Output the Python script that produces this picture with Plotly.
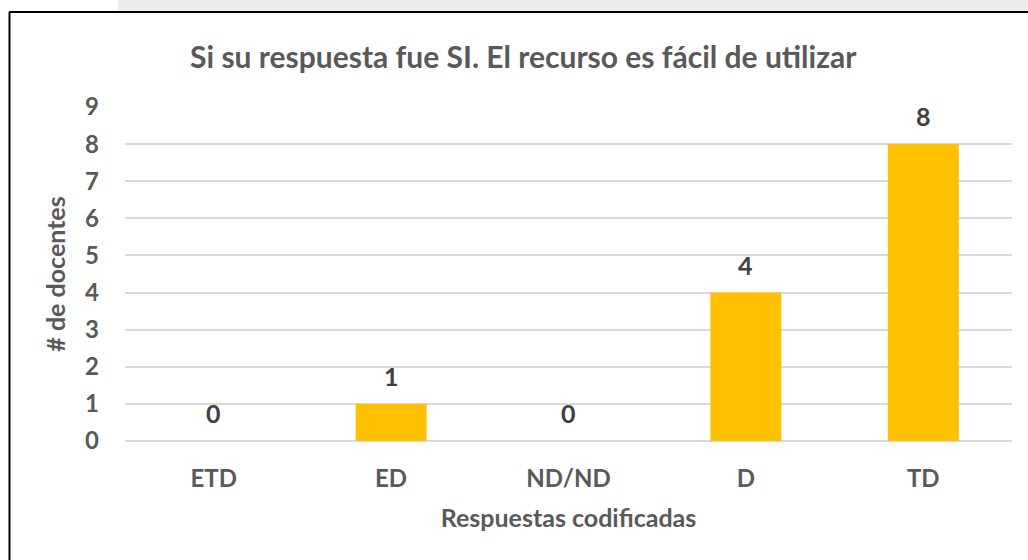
import plotly.graph_objects as go

# Survey answers (coded) and number of teachers per answer
categorias = ["ETD", "ED", "ND/ND", "D", "TD"]
docentes = [0, 1, 0, 4, 8]
ticks_y = [0, 1, 2, 3, 4, 5, 6, 7, 8, 9]

W, H = 1028, 560
ML, MR, MT, MB = 125, 16, 107, 119
PW, PH = W - ML - MR, H - MT - MB


def px_x(p):
    return (p - ML) / PW


def px_y(p):
    return (H - MB - p) / PH


FONT = "Lato"
GRIS = "#595959"

fig = go.Figure(
    go.Bar(
        x=categorias,
        y=docentes,
        marker=dict(color="#ffc000", line=dict(width=0)),
        width=0.4,
        hoverinfo="x+y",
    )
)

# value labels above each bar
for cat, val in zip(categorias, docentes):
    fig.add_annotation(
        x=cat, y=val, text=str(val), showarrow=False,
        yanchor="middle", yshift=28,
        font=dict(family=FONT, size=25, color="#404040", weight="bold"),
    )

fig.update_layout(
    width=W,
    height=H,
    margin=dict(l=ML, r=MR, t=MT, b=MB, pad=0),
    paper_bgcolor="white",
    plot_bgcolor="white",
    showlegend=False,
    title=dict(
        text="Si su respuesta fue SI. El recurso es fácil de utilizar",
        x=0.509,
        xanchor="center",
        y=1 - 57 / H,
        yanchor="middle",
        font=dict(family=FONT, size=30, color=GRIS, weight="bold"),
    ),
    xaxis=dict(
        showgrid=False,
        showline=False,
        zeroline=False,
        ticks="",
        ticklabelstandoff=21,
        tickfont=dict(family=FONT, size=24, color=GRIS, weight="bold"),
        title=dict(
            text="Respuestas codificadas",
            standoff=18,
            font=dict(family=FONT, size=25, color=GRIS, weight="bold"),
        ),
    ),
    yaxis=dict(
        range=[0, 9],
        tickvals=ticks_y,
        showgrid=True,
        gridcolor="#d9d9d9",
        gridwidth=1.5,
        zeroline=True,
        zerolinecolor="#d9d9d9",
        zerolinewidth=1.5,
        showline=False,
        ticks="",
        ticklabelstandoff=25,
        tickfont=dict(family=FONT, size=24, color=GRIS, weight="bold"),
        title=dict(
            text="# de docentes",
            standoff=12,
            font=dict(family=FONT, size=25, color=GRIS, weight="bold"),
        ),
    ),
    shapes=[
        # pale strip above the frame
        dict(type="rect", xref="paper", yref="paper",
             x0=px_x(118), x1=px_x(W), y0=px_y(12), y1=px_y(0),
             fillcolor="#ececec", line=dict(width=0), layer="below"),
        # frame: top and left edges
        dict(type="line", xref="paper", yref="paper",
             x0=px_x(9), x1=px_x(W), y0=px_y(12), y1=px_y(12),
             line=dict(color="black", width=2)),
        dict(type="line", xref="paper", yref="paper",
             x0=px_x(9.5), x1=px_x(9.5), y0=px_y(12), y1=px_y(H),
             line=dict(color="black", width=2)),
    ],
)

fig.write_html("out.html")
